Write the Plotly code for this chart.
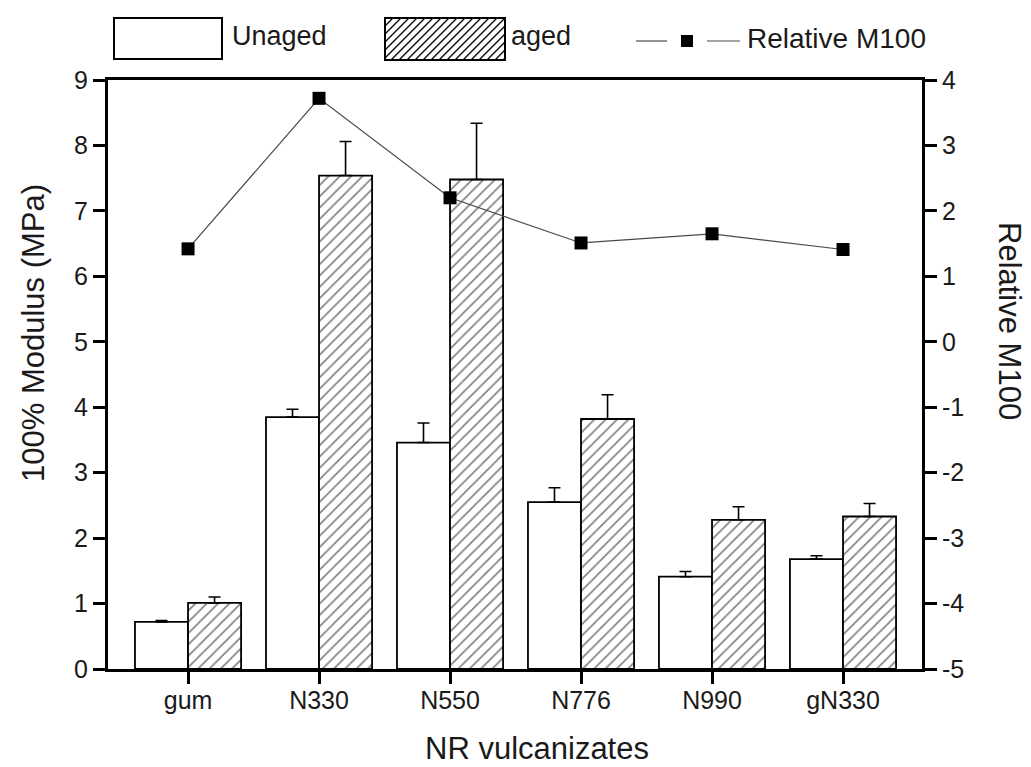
import plotly.graph_objects as go

# ---- data ----
categories = ["gum", "N330", "N550", "N776", "N990", "gN330"]
unaged = [0.72, 3.85, 3.46, 2.55, 1.41, 1.68]
unaged_err = [0.02, 0.12, 0.30, 0.22, 0.08, 0.05]
aged = [1.01, 7.54, 7.48, 3.82, 2.28, 2.33]
aged_err = [0.09, 0.52, 0.86, 0.37, 0.20, 0.20]
relative_m100 = [1.42, 3.72, 2.20, 1.51, 1.65, 1.41]

# tick labels (plain hyphen for negatives)
left_ticks = list(range(0, 10))
left_labels = [str(v) for v in left_ticks]
right_ticks = list(range(-5, 5))
right_labels = [str(v) for v in right_ticks]

# ---- frame geometry (pixels) ----
FIG_W, FIG_H = 1031, 767
L, R, T, B = 108, 109, 80, 98
PW, PH = FIG_W - L - R, FIG_H - T - B


def px(x):
    return (x - L) / PW


def py(y):
    return (FIG_H - B - y) / PH


FONT = "Liberation Sans, Arial, sans-serif"
INK = "#1a1a1a"

fig = go.Figure()

fig.add_trace(go.Bar(
    x=categories, y=unaged, name="Unaged",
    marker=dict(color="white", line=dict(color="black", width=1.8)),
    error_y=dict(type="data", array=unaged_err, arrayminus=[0] * len(unaged_err),
                 symmetric=False, color="black", thickness=1.6, width=6),
    showlegend=False,
))
fig.add_trace(go.Bar(
    x=categories, y=aged, name="aged",
    marker=dict(color="white", line=dict(color="black", width=1.8),
                pattern=dict(shape="/", fgcolor="black", bgcolor="white",
                             size=8, solidity=0.2)),
    error_y=dict(type="data", array=aged_err, arrayminus=[0] * len(aged_err),
                 symmetric=False, color="black", thickness=1.6, width=6),
    showlegend=False,
))
fig.add_trace(go.Scatter(
    x=categories, y=relative_m100, name="Relative M100", yaxis="y2",
    mode="lines+markers",
    line=dict(color="#4a4a4a", width=1.2),
    marker=dict(symbol="square", size=13, color="black"),
    showlegend=False,
))

axis_common = dict(
    showline=True, linecolor="black", linewidth=3,
    ticks="outside", ticklen=12, tickwidth=3, tickcolor="black",
    showgrid=False, zeroline=False,
    tickfont=dict(family=FONT, size=25, color=INK),
)

fig.update_layout(
    width=FIG_W, height=FIG_H,
    margin=dict(l=L, r=R, t=T, b=B),
    paper_bgcolor="white", plot_bgcolor="white",
    barmode="group", bargap=0.19, bargroupgap=0,
    xaxis=dict(**axis_common, mirror=True, type="category",
               range=[-0.611, 5.603], ticklabelstandoff=-5),
    yaxis=dict(**axis_common, range=[0, 9],
               tickmode="array", tickvals=left_ticks, ticktext=left_labels),
    yaxis2=dict(**axis_common, range=[-5, 4],
                tickmode="array", tickvals=right_ticks, ticktext=right_labels,
                overlaying="y", side="right"),
)

# ---- axis titles ----
title_font = dict(family=FONT, size=31, color=INK)
fig.add_annotation(text="100% Modulus (MPa)", xref="paper", yref="paper",
                   x=px(33), y=py(333), textangle=-90, showarrow=False,
                   xanchor="center", yanchor="middle", font=title_font)
fig.add_annotation(text="Relative M100", xref="paper", yref="paper",
                   x=px(1010), y=py(321), textangle=90, showarrow=False,
                   xanchor="center", yanchor="middle", font=title_font)
fig.add_annotation(text="NR vulcanizates", xref="paper", yref="paper",
                   x=px(537), y=py(748), showarrow=False,
                   xanchor="center", yanchor="middle", font=title_font)

# ---- legend drawn above the frame ----
leg_font = dict(family=FONT, size=27, color=INK)
shapes = []

# unaged swatch
shapes.append(dict(type="rect", xref="paper", yref="paper",
                   x0=px(114), x1=px(222), y0=py(59), y1=py(18),
                   line=dict(color="black", width=2), fillcolor="white"))

# aged swatch with diagonal hatching
ax0, ax1, ay0, ay1 = 385, 505, 18, 60
shapes.append(dict(type="rect", xref="paper", yref="paper",
                   x0=px(ax0), x1=px(ax1), y0=py(ay1), y1=py(ay0),
                   line=dict(color="black", width=2), fillcolor="white"))
step = 8
segs = []
c = ax0 - (ay1 - ay0)
while c < ax1:
    # "/" stroke from lower-left to upper-right, clipped to the swatch
    x_start, y_start = c, ay1
    x_end, y_end = c + (ay1 - ay0), ay0
    if x_start < ax0:
        y_start -= (ax0 - x_start)
        x_start = ax0
    if x_end > ax1:
        y_end += (x_end - ax1)
        x_end = ax1
    if x_end > x_start:
        segs.append(f"M{px(x_start):.5f},{py(y_start):.5f} L{px(x_end):.5f},{py(y_end):.5f}")
    c += step
shapes.append(dict(type="path", xref="paper", yref="paper", path=" ".join(segs),
                   line=dict(color="black", width=1.3)))

# line + marker swatch
ly = 41
shapes.append(dict(type="line", xref="paper", yref="paper",
                   x0=px(636), x1=px(667), y0=py(ly), y1=py(ly),
                   line=dict(color="#4a4a4a", width=1.2)))
shapes.append(dict(type="line", xref="paper", yref="paper",
                   x0=px(707), x1=px(740), y0=py(ly), y1=py(ly),
                   line=dict(color="#4a4a4a", width=1.2)))
shapes.append(dict(type="rect", xref="paper", yref="paper",
                   x0=px(681), x1=px(693), y0=py(ly + 6), y1=py(ly - 6),
                   line=dict(color="black", width=0), fillcolor="black"))

fig.update_layout(shapes=shapes)

fig.add_annotation(text="Unaged", xref="paper", yref="paper", x=px(230), y=py(36),
                   showarrow=False, xanchor="left", yanchor="middle", font=leg_font)
fig.add_annotation(text="aged", xref="paper", yref="paper", x=px(509), y=py(36),
                   showarrow=False, xanchor="left", yanchor="middle", font=leg_font)
fig.add_annotation(text="Relative M100", xref="paper", yref="paper", x=px(745), y=py(39),
                   showarrow=False, xanchor="left", yanchor="middle",
                   font=dict(family=FONT, size=28, color=INK))

fig.write_html("out.html")
